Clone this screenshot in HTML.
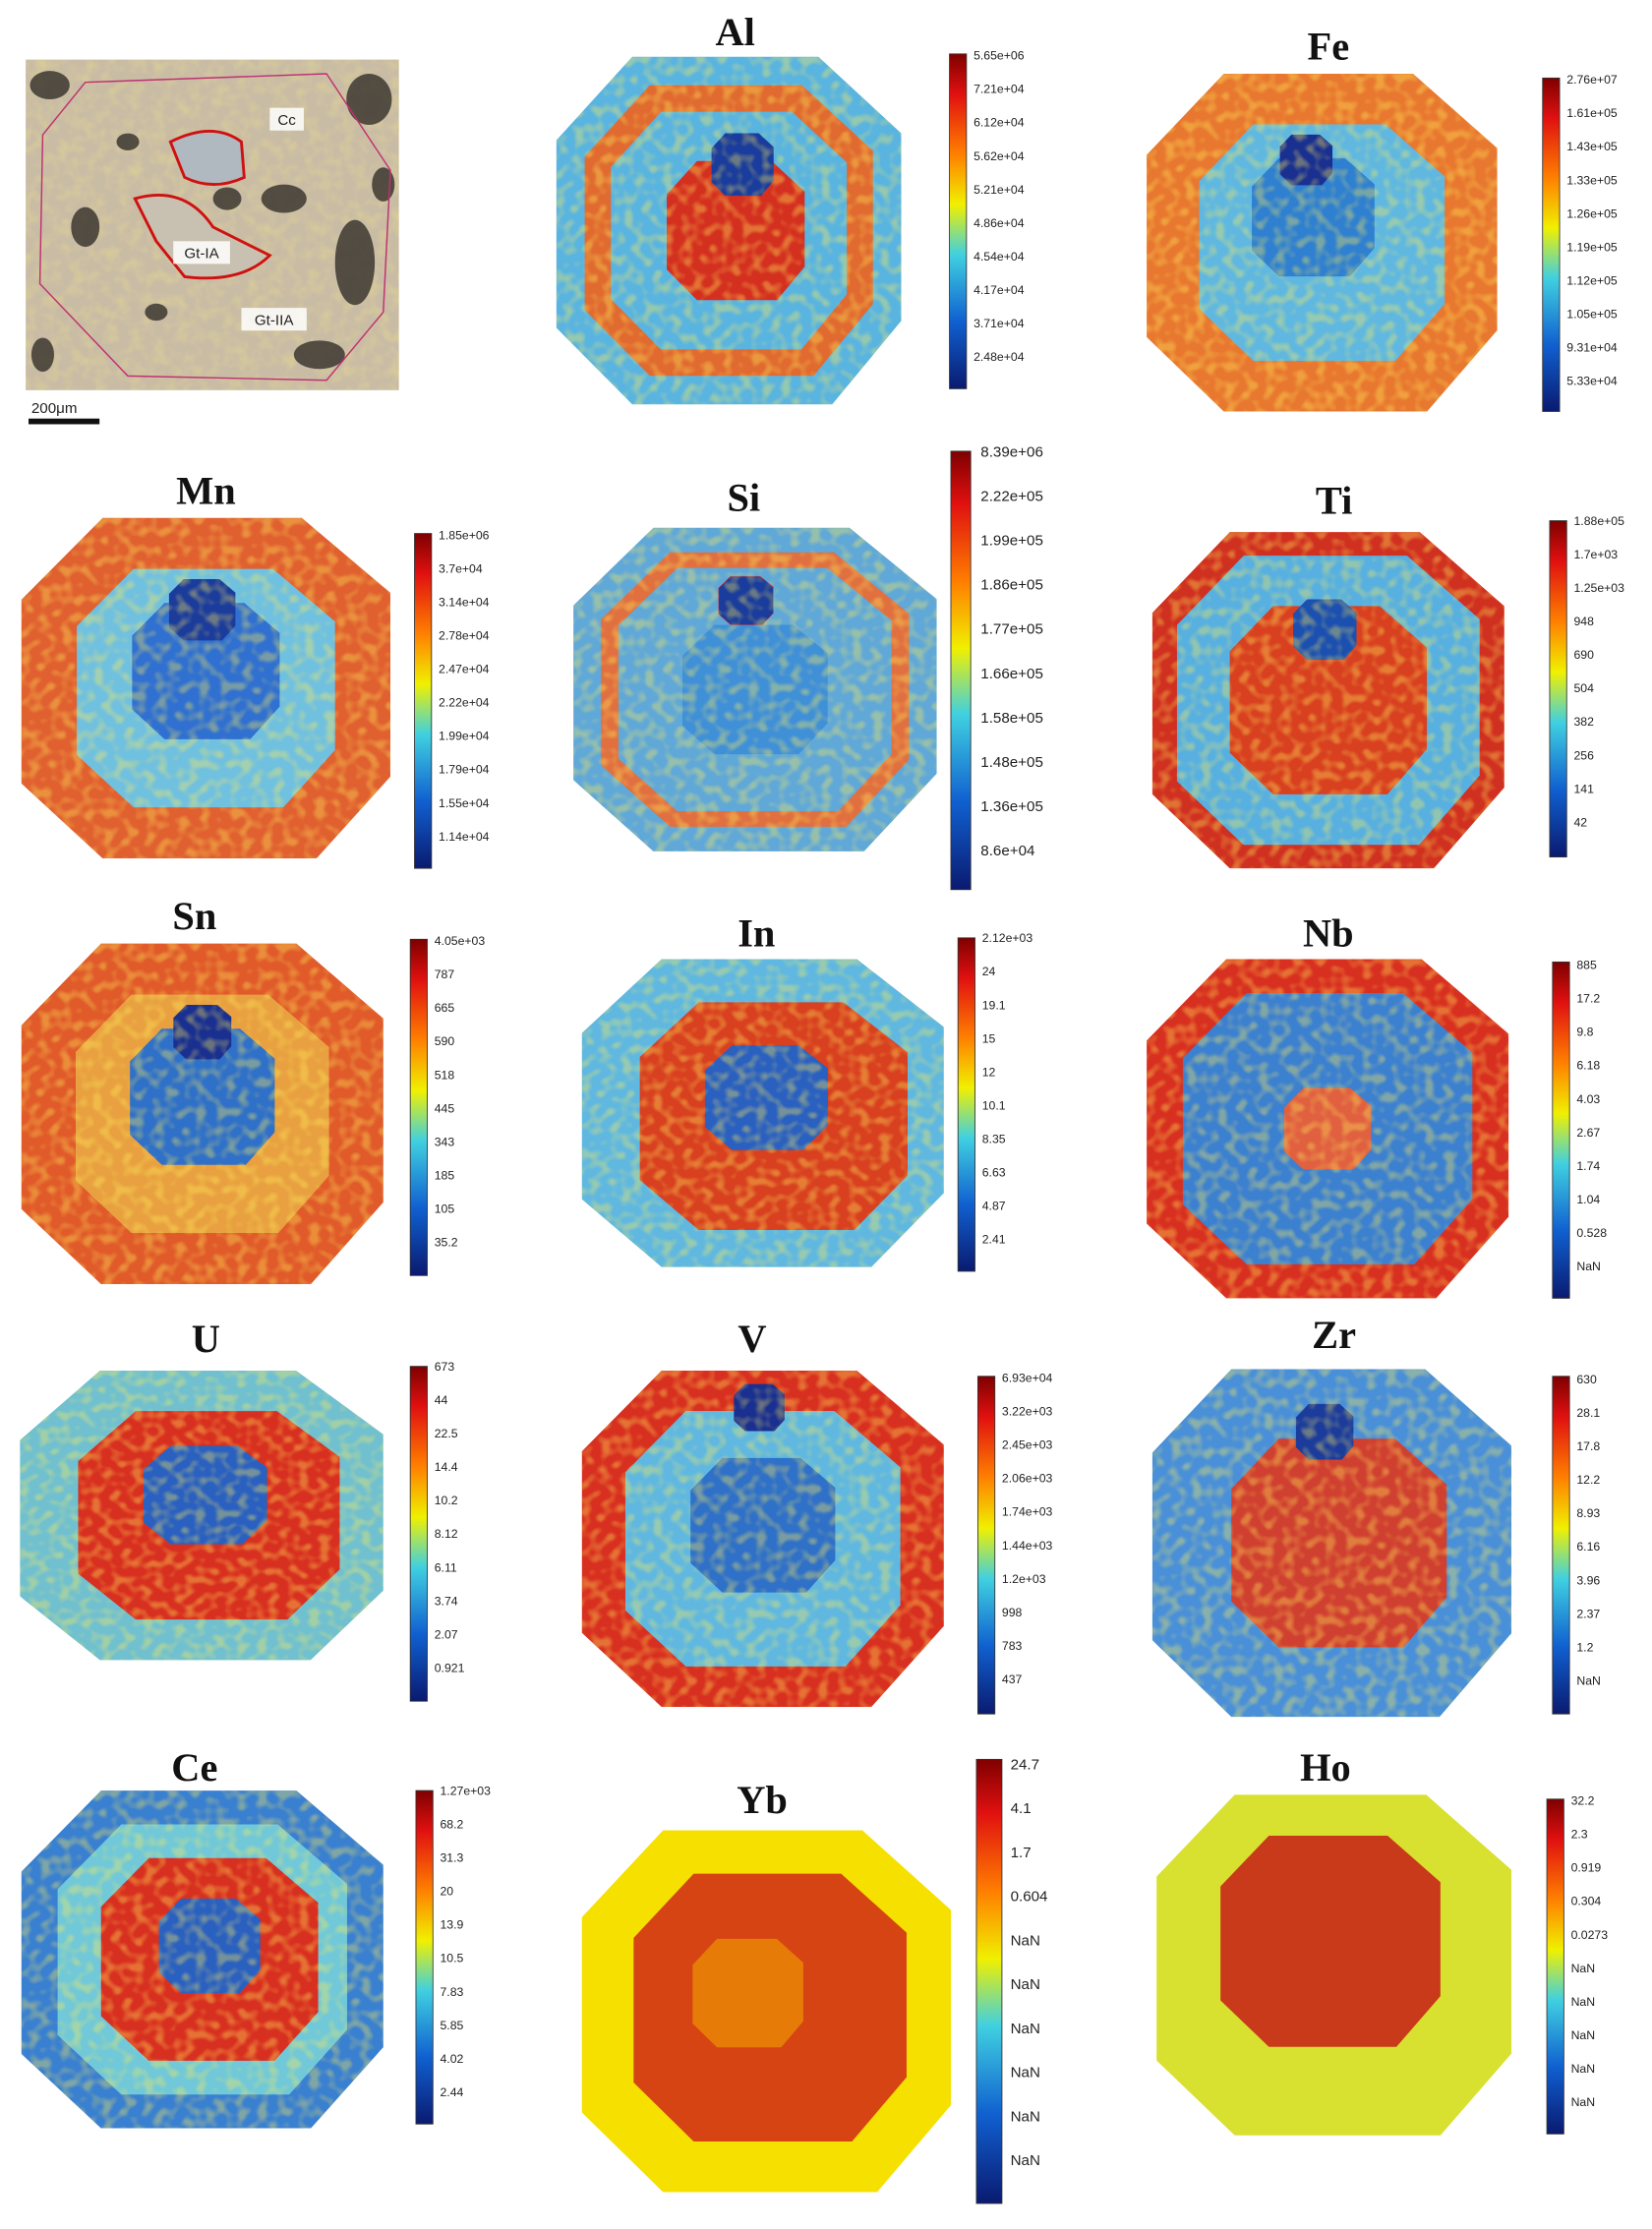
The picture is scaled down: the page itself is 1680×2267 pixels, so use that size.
<!DOCTYPE html>
<html><head><meta charset="utf-8"><style>
html,body{margin:0;padding:0;background:#fff}
svg{display:block}
.t{font-family:"Liberation Serif",serif;font-weight:bold;font-size:28px;text-anchor:middle;fill:#111}
.l{font-family:"Liberation Sans",sans-serif;font-size:8.5px;fill:#222}
.L{font-family:"Liberation Sans",sans-serif;font-size:10.5px;fill:#222}
</style></head><body>
<svg width="1680" height="2267" viewBox="0 0 1164 1571" xmlns="http://www.w3.org/2000/svg">
<defs>
<linearGradient id="jet" x1="0" y1="0" x2="0" y2="1">
<stop offset="0" stop-color="#7f0000"/><stop offset="0.12" stop-color="#e01010"/>
<stop offset="0.3" stop-color="#ff8000"/><stop offset="0.45" stop-color="#f0f000"/>
<stop offset="0.6" stop-color="#40d0e0"/><stop offset="0.8" stop-color="#1060d0"/>
<stop offset="1" stop-color="#0a1a70"/></linearGradient>
<polygon id="oct" points="22,0 76,0 100,22 100,76 80,100 22,100 0,78 0,24"/>
<filter id="nz" x="0" y="0" width="1" height="1"><feTurbulence type="fractalNoise" baseFrequency="0.12" numOctaves="2" seed="3"/>
<feColorMatrix values="0 0 0 0 1  0 0 0 0 0.9  0 0 0 0 0.2  0 0 0 -2.2 1.3"/></filter>
<filter id="sp" x="0" y="0" width="1" height="1"><feTurbulence type="fractalNoise" baseFrequency="0.35" numOctaves="1" seed="7"/>
<feColorMatrix values="0 0 0 0 1  0 0 0 0 0.85  0 0 0 0 0.1  0 0 0 -4 2.2"/><feComposite in2="SourceGraphic" operator="in"/></filter>
</defs>
<!-- photo -->
<rect x="18" y="42" width="263" height="233" fill="#c9bca5"/>
<rect x="18" y="42" width="263" height="233" fill="#6a6055" opacity="0.25" filter="url(#nz)"/>
<g fill="#2a2622" opacity="0.75">
<ellipse cx="35" cy="60" rx="14" ry="10"/><ellipse cx="260" cy="70" rx="16" ry="18"/><ellipse cx="250" cy="185" rx="14" ry="30"/>
<ellipse cx="200" cy="140" rx="16" ry="10"/><ellipse cx="90" cy="100" rx="8" ry="6"/><ellipse cx="60" cy="160" rx="10" ry="14"/>
<ellipse cx="225" cy="250" rx="18" ry="10"/><ellipse cx="110" cy="220" rx="8" ry="6"/><ellipse cx="160" cy="140" rx="10" ry="8"/>
<ellipse cx="30" cy="250" rx="8" ry="12"/><ellipse cx="270" cy="130" rx="8" ry="12"/></g>
<polygon points="60,58 230,52 275,120 270,220 230,268 90,265 28,200 30,95" fill="none" stroke="#c03070" stroke-width="1"/>
<path d="M120,100 Q150,85 170,100 L172,125 Q150,135 130,125 Z" fill="#b0b8c0" stroke="#d01010" stroke-width="2"/>
<path d="M95,140 Q130,130 150,160 L190,180 Q170,200 130,195 L110,170 Z" fill="#c8c0b0" stroke="#d01010" stroke-width="2"/>
<rect x="190" y="76" width="24" height="16" fill="#fff" opacity="0.85"/><text x="202" y="88" class="L" text-anchor="middle" fill="#c00">Cc</text>
<rect x="122" y="170" width="40" height="16" fill="#fff" opacity="0.85"/><text x="142" y="182" class="L" fill="#c00" text-anchor="middle">Gt-IA</text>
<rect x="170" y="217" width="46" height="16" fill="#fff" opacity="0.85"/><text x="193" y="229" class="L" fill="#c00" text-anchor="middle">Gt-IIA</text>
<text x="22" y="291" class="L" font-size="12">200μm</text>
<rect x="20" y="295" width="50" height="4" fill="#111"/>

<g id="maps">
<g transform="translate(392,40) scale(2.43,2.45)"><use href="#oct" fill="#5ab4e0"/><use href="#oct" fill="none" stroke="#e06a30" stroke-width="10" transform="translate(12,12) scale(.76)"/><use href="#oct" fill="#d43020" transform="translate(32,30) scale(.4)"/><use href="#oct" fill="#1a3c9c" transform="translate(45,22) scale(.18)"/><use href="#oct" fill="#fff" opacity="0.35" filter="url(#sp)"/></g>
<g transform="translate(808,52) scale(2.47,2.38)"><use href="#oct" fill="#e87830"/><use href="#oct" fill="#60b8e0" transform="translate(15,15) scale(.7)"/><use href="#oct" fill="#2f80d0" transform="translate(30,25) scale(.35)"/><use href="#oct" fill="#1a3090" transform="translate(38,18) scale(.15)"/><use href="#oct" fill="#fff" opacity="0.35" filter="url(#sp)"/></g>
<g transform="translate(15,365) scale(2.6,2.4)"><use href="#oct" fill="#e06030"/><use href="#oct" fill="#70c0e0" transform="translate(15,15) scale(.7)"/><use href="#oct" fill="#3070d0" transform="translate(30,25) scale(.4)"/><use href="#oct" fill="#1c3c9c" transform="translate(40,18) scale(.18)"/><use href="#oct" fill="#fff" opacity="0.35" filter="url(#sp)"/></g>
<g transform="translate(404,372) scale(2.56,2.28)"><use href="#oct" fill="#60a8d8"/><use href="#oct" fill="none" stroke="#e07040" stroke-width="6" transform="translate(10,10) scale(.8)"/><use href="#oct" fill="#4090d8" transform="translate(30,30) scale(.4)"/><use href="#oct" fill="#1a3c9c" stroke="#e02020" transform="translate(40,15) scale(.15)"/><use href="#oct" fill="#fff" opacity="0.35" filter="url(#sp)"/></g>
<g transform="translate(812,375) scale(2.48,2.37)"><use href="#oct" fill="#d03020"/><use href="#oct" fill="#58b0e0" transform="translate(7,7) scale(.86)"/><use href="#oct" fill="#d84020" transform="translate(22,22) scale(.56)"/><use href="#oct" fill="#1c50b0" transform="translate(40,20) scale(.18)"/><use href="#oct" fill="#fff" opacity="0.35" filter="url(#sp)"/></g>
<g transform="translate(15,665) scale(2.55,2.4)"><use href="#oct" fill="#e05a2a"/><use href="#oct" fill="#e8a040" transform="translate(15,15) scale(.7)"/><use href="#oct" fill="#2f70c8" transform="translate(30,25) scale(.4)"/><use href="#oct" fill="#1a3090" transform="translate(42,18) scale(.16)"/><use href="#oct" fill="#fff" opacity="0.35" filter="url(#sp)"/></g>
<g transform="translate(410,676) scale(2.55,2.17)"><use href="#oct" fill="#60b8e0"/><use href="#oct" fill="#d84020" transform="translate(16,14) scale(.74)"/><use href="#oct" fill="#2a60c0" transform="translate(34,28) scale(.34)"/><use href="#oct" fill="#fff" opacity="0.35" filter="url(#sp)"/></g>
<g transform="translate(808,676) scale(2.55,2.39)"><use href="#oct" fill="#d83020"/><use href="#oct" fill="#3c80d0" transform="translate(10,10) scale(.8)"/><use href="#oct" fill="#e06040" transform="translate(38,38) scale(.24)"/><use href="#oct" fill="#fff" opacity="0.35" filter="url(#sp)"/></g>
<g transform="translate(14,966) scale(2.56,2.04)"><use href="#oct" fill="#70c0d0"/><use href="#oct" fill="#d83020" transform="translate(16,14) scale(.72)"/><use href="#oct" fill="#2a60c0" transform="translate(34,26) scale(.34)"/><use href="#oct" fill="#fff" opacity="0.35" filter="url(#sp)"/></g>
<g transform="translate(410,966) scale(2.55,2.37)"><use href="#oct" fill="#d83020"/><use href="#oct" fill="#60b8e0" transform="translate(12,12) scale(.76)"/><use href="#oct" fill="#2f70c8" transform="translate(30,26) scale(.4)"/><use href="#oct" fill="#1a3090" transform="translate(42,4) scale(.14)"/><use href="#oct" fill="#fff" opacity="0.35" filter="url(#sp)"/></g>
<g transform="translate(812,965) scale(2.53,2.45)"><use href="#oct" fill="#4a90d8"/><use href="#oct" fill="#d04030" transform="translate(22,20) scale(.6)"/><use href="#oct" fill="#1c3c9c" transform="translate(40,10) scale(.16)"/><use href="#oct" fill="#fff" opacity="0.35" filter="url(#sp)"/></g>
<g transform="translate(15,1262) scale(2.55,2.38)"><use href="#oct" fill="#3a80d0"/><use href="#oct" fill="#70c8d8" transform="translate(10,10) scale(.8)"/><use href="#oct" fill="#d83020" transform="translate(22,20) scale(.6)"/><use href="#oct" fill="#2a60c0" transform="translate(38,32) scale(.28)"/><use href="#oct" fill="#fff" opacity="0.35" filter="url(#sp)"/></g>
<g transform="translate(410,1290) scale(2.6,2.55)"><use href="#oct" fill="#f5e000"/><use href="#oct" fill="#d02818" opacity="0.85" transform="translate(14,12) scale(.74)"/><use href="#oct" fill="#f0a000" opacity="0.6" transform="translate(30,30) scale(.3)"/></g>
<g transform="translate(815,1265) scale(2.5,2.4)"><use href="#oct" fill="#d8e030"/><use href="#oct" fill="#c82818" opacity="0.9" transform="translate(18,12) scale(.62)"/></g>
</g>

<text class="t" x="518" y="32">Al</text><text class="t" x="936" y="42">Fe</text>
<text class="t" x="145" y="355">Mn</text><text class="t" x="524" y="360">Si</text><text class="t" x="940" y="362">Ti</text>
<text class="t" x="137" y="655">Sn</text><text class="t" x="533" y="667">In</text><text class="t" x="936" y="667">Nb</text>
<text class="t" x="145" y="953">U</text><text class="t" x="530" y="953">V</text><text class="t" x="940" y="950">Zr</text>
<text class="t" x="137" y="1255">Ce</text><text class="t" x="537" y="1278">Yb</text><text class="t" x="934" y="1255">Ho</text>

<g stroke="#333" stroke-width="0.6" fill="url(#jet)">
<rect x="669" y="38" width="12" height="236"/><rect x="1087" y="55" width="12" height="235"/>
<rect x="292" y="376" width="12" height="236"/><rect x="670" y="318" width="14" height="309"/><rect x="1092" y="367" width="12" height="237"/>
<rect x="289" y="662" width="12" height="237"/><rect x="675" y="661" width="12" height="235"/><rect x="1094" y="678" width="12" height="237"/>
<rect x="289" y="963" width="12" height="236"/><rect x="689" y="970" width="12" height="238"/><rect x="1094" y="970" width="12" height="238"/>
<rect x="293" y="1262" width="12" height="235"/><rect x="688" y="1240" width="18" height="313"/><rect x="1090" y="1268" width="12" height="236"/>
</g>
<g class="l">
<g transform="translate(686,42)"><text y="0">5.65e+06</text><text y="23.6">7.21e+04</text><text y="47.2">6.12e+04</text><text y="70.8">5.62e+04</text><text y="94.4">5.21e+04</text><text y="118">4.86e+04</text><text y="141.6">4.54e+04</text><text y="165.2">4.17e+04</text><text y="188.8">3.71e+04</text><text y="212.4">2.48e+04</text></g>
<g transform="translate(1104,59)"><text y="0">2.76e+07</text><text y="23.6">1.61e+05</text><text y="47.2">1.43e+05</text><text y="70.8">1.33e+05</text><text y="94.4">1.26e+05</text><text y="118">1.19e+05</text><text y="141.6">1.12e+05</text><text y="165.2">1.05e+05</text><text y="188.8">9.31e+04</text><text y="212.4">5.33e+04</text></g>
<g transform="translate(309,380)"><text y="0">1.85e+06</text><text y="23.6">3.7e+04</text><text y="47.2">3.14e+04</text><text y="70.8">2.78e+04</text><text y="94.4">2.47e+04</text><text y="118">2.22e+04</text><text y="141.6">1.99e+04</text><text y="165.2">1.79e+04</text><text y="188.8">1.55e+04</text><text y="212.4">1.14e+04</text></g>
<g transform="translate(691,322)" class="L"><text y="0">8.39e+06</text><text y="31.2">2.22e+05</text><text y="62.4">1.99e+05</text><text y="93.6">1.86e+05</text><text y="124.8">1.77e+05</text><text y="156">1.66e+05</text><text y="187.2">1.58e+05</text><text y="218.4">1.48e+05</text><text y="249.6">1.36e+05</text><text y="280.8">8.6e+04</text></g>
<g transform="translate(1109,370)"><text y="0">1.88e+05</text><text y="23.6">1.7e+03</text><text y="47.2">1.25e+03</text><text y="70.8">948</text><text y="94.4">690</text><text y="118">504</text><text y="141.6">382</text><text y="165.2">256</text><text y="188.8">141</text><text y="212.4">42</text></g>
<g transform="translate(306,666)"><text y="0">4.05e+03</text><text y="23.6">787</text><text y="47.2">665</text><text y="70.8">590</text><text y="94.4">518</text><text y="118">445</text><text y="141.6">343</text><text y="165.2">185</text><text y="188.8">105</text><text y="212.4">35.2</text></g>
<g transform="translate(692,664)"><text y="0">2.12e+03</text><text y="23.6">24</text><text y="47.2">19.1</text><text y="70.8">15</text><text y="94.4">12</text><text y="118">10.1</text><text y="141.6">8.35</text><text y="165.2">6.63</text><text y="188.8">4.87</text><text y="212.4">2.41</text></g>
<g transform="translate(1111,683)"><text y="0">885</text><text y="23.6">17.2</text><text y="47.2">9.8</text><text y="70.8">6.18</text><text y="94.4">4.03</text><text y="118">2.67</text><text y="141.6">1.74</text><text y="165.2">1.04</text><text y="188.8">0.528</text><text y="212.4">NaN</text></g>
<g transform="translate(306,966)"><text y="0">673</text><text y="23.6">44</text><text y="47.2">22.5</text><text y="70.8">14.4</text><text y="94.4">10.2</text><text y="118">8.12</text><text y="141.6">6.11</text><text y="165.2">3.74</text><text y="188.8">2.07</text><text y="212.4">0.921</text></g>
<g transform="translate(706,974)"><text y="0">6.93e+04</text><text y="23.6">3.22e+03</text><text y="47.2">2.45e+03</text><text y="70.8">2.06e+03</text><text y="94.4">1.74e+03</text><text y="118">1.44e+03</text><text y="141.6">1.2e+03</text><text y="165.2">998</text><text y="188.8">783</text><text y="212.4">437</text></g>
<g transform="translate(1111,975)"><text y="0">630</text><text y="23.6">28.1</text><text y="47.2">17.8</text><text y="70.8">12.2</text><text y="94.4">8.93</text><text y="118">6.16</text><text y="141.6">3.96</text><text y="165.2">2.37</text><text y="188.8">1.2</text><text y="212.4">NaN</text></g>
<g transform="translate(310,1265)"><text y="0">1.27e+03</text><text y="23.6">68.2</text><text y="47.2">31.3</text><text y="70.8">20</text><text y="94.4">13.9</text><text y="118">10.5</text><text y="141.6">7.83</text><text y="165.2">5.85</text><text y="188.8">4.02</text><text y="212.4">2.44</text></g>
<g transform="translate(712,1247)" class="L"><text y="0">24.7</text><text y="31">4.1</text><text y="62">1.7</text><text y="93">0.604</text><text y="124">NaN</text><text y="155">NaN</text><text y="186">NaN</text><text y="217">NaN</text><text y="248">NaN</text><text y="279">NaN</text></g>
<g transform="translate(1107,1272)"><text y="0">32.2</text><text y="23.6">2.3</text><text y="47.2">0.919</text><text y="70.8">0.304</text><text y="94.4">0.0273</text><text y="118">NaN</text><text y="141.6">NaN</text><text y="165.2">NaN</text><text y="188.8">NaN</text><text y="212.4">NaN</text></g>
</g>
</svg>
</body></html>
